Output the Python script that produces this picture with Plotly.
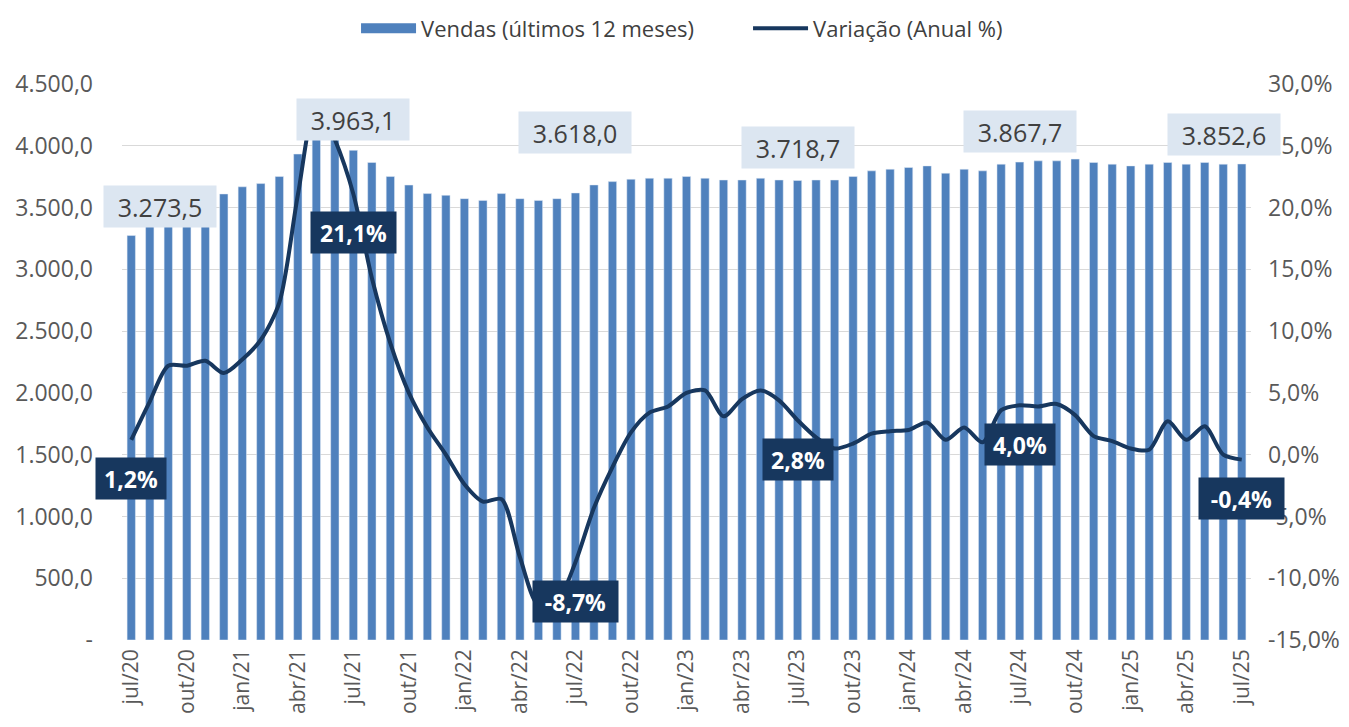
import plotly.graph_objects as go

# months jul/20 .. jul/25
months = [
    "jul/20", "ago/20", "set/20", "out/20", "nov/20", "dez/20",
    "jan/21", "fev/21", "mar/21", "abr/21", "mai/21", "jun/21",
    "jul/21", "ago/21", "set/21", "out/21", "nov/21", "dez/21",
    "jan/22", "fev/22", "mar/22", "abr/22", "mai/22", "jun/22",
    "jul/22", "ago/22", "set/22", "out/22", "nov/22", "dez/22",
    "jan/23", "fev/23", "mar/23", "abr/23", "mai/23", "jun/23",
    "jul/23", "ago/23", "set/23", "out/23", "nov/23", "dez/23",
    "jan/24", "fev/24", "mar/24", "abr/24", "mai/24", "jun/24",
    "jul/24", "ago/24", "set/24", "out/24", "nov/24", "dez/24",
    "jan/25", "fev/25", "mar/25", "abr/25", "mai/25", "jun/25",
    "jul/25",
]

# vendas acumuladas 12 meses
vendas = [
    3273.5, 3420, 3460, 3510, 3580, 3610,
    3668, 3694, 3751, 3933, 4050, 4060,
    3963.1, 3865, 3751, 3682, 3613, 3599,
    3572, 3558, 3613, 3572, 3558, 3572,
    3618.0, 3683, 3710, 3729, 3737, 3737,
    3751, 3737, 3723, 3723, 3737, 3723,
    3718.7, 3723, 3723, 3751, 3797, 3810,
    3824, 3837, 3778, 3810, 3797, 3851,
    3867.7, 3878, 3878, 3892, 3865, 3851,
    3837, 3851, 3865, 3851, 3865, 3851,
    3852.6,
]

# variação anual (%)
variacao = [
    1.2, 4.3, 7.2, 7.2, 7.6, 6.6,
    7.7, 9.3, 12.3, 21.0, 28.5, 25.5,
    21.1, 14.3, 9.0, 5.0, 2.2, 0.0,
    -2.4, -3.8, -3.6, -8.3, -12.2, -11.9,
    -8.7, -4.3, -1.0, 1.8, 3.4, 3.9,
    5.0, 5.2, 3.1, 4.5, 5.2, 4.4,
    2.8, 1.4, 0.5, 0.9, 1.7, 1.9,
    2.0, 2.6, 1.2, 2.2, 1.0, 3.6,
    4.0, 3.9, 4.1, 3.2, 1.5, 1.1,
    0.5, 0.4, 2.7, 1.2, 2.3, 0.0,
    -0.4,
]

# pontos com rótulo (julho de cada ano)
label_idx = [0, 12, 24, 36, 48, 60]

left_ticks = [0, 500, 1000, 1500, 2000, 2500, 3000, 3500, 4000, 4500]
left_ticktext = ["-", "500,0", "1.000,0", "1.500,0", "2.000,0", "2.500,0",
                 "3.000,0", "3.500,0", "4.000,0", "4.500,0"]
right_ticks = [-15, -10, -5, 0, 5, 10, 15, 20, 25, 30]
right_ticktext = ["-15,0%", "-10,0%", "-5,0%", "0,0%", "5,0%", "10,0%",
                  "15,0%", "20,0%", "25,0%", "30,0%"]

BAR = "#4f81bd"
NAVY = "#17375e"
FONT = "Open Sans"


def br(v, dec=1):
    s = f"{v:,.{dec}f}"
    return s.replace(",", "X").replace(".", ",").replace("X", ".")


fig = go.Figure()
fig.add_trace(go.Bar(
    x=months, y=vendas, marker_color=BAR, showlegend=False,
    name="Vendas (últimos 12 meses)",
))
# legend swatch only
fig.add_trace(go.Scatter(
    x=[None], y=[None], mode="lines", name="Vendas (últimos 12 meses)",
    line=dict(color=BAR, width=14),
))
fig.add_trace(go.Scatter(
    x=months, y=variacao, mode="lines", name="Variação (Anual %)",
    line=dict(color=NAVY, width=4, shape="spline", smoothing=0.8),
    yaxis="y2",
))

# bar value labels: (xshift, yshift) per label
bar_shift = [(29, 29), (0, 31), (0, 60), (0, 33), (0, 31), (-18, 29)]
for k, (dx, dy) in zip(label_idx, bar_shift):
    fig.add_annotation(
        x=months[k], y=vendas[k], yref="y", text=br(vendas[k]),
        showarrow=False, xshift=dx, yshift=dy,
        width=106, height=35, borderpad=3,
        bgcolor="#dce6f1",
        font=dict(family=FONT, size=25, color="#404040"),
    )
for k in label_idx:
    txt = br(variacao[k]) + "%"
    fig.add_annotation(
        x=months[k], y=variacao[k], yref="y2", text="<b>" + txt + "</b>",
        showarrow=False, yshift=-39,
        width=15 * len(txt) + 2, height=33, borderpad=4,
        bgcolor=NAVY,
        font=dict(family=FONT, size=23, color="white"),
    )

fig.update_layout(
    width=1349, height=727,
    margin=dict(l=114, r=106, t=76, b=95),
    paper_bgcolor="white", plot_bgcolor="white",
    bargap=0.55,
    font=dict(family=FONT, size=22, color="#595959"),
    legend=dict(orientation="h", xref="container", yref="container",
                x=0.258, xanchor="left", y=0.972, yanchor="middle",
                font=dict(size=22, color="#404040"), itemwidth=55,
                entrywidth=322),
    xaxis=dict(
        range=[-0.5, 60.5],
        tickmode="array", tickvals=months[::3], tickangle=-90,
        showgrid=False, showline=False, ticks="", automargin=False,
        ticklabelstandoff=4,
        tickfont=dict(size=21, color="#595959"),
    ),
    yaxis=dict(
        range=[0, 4500], tickvals=left_ticks, ticktext=left_ticktext,
        showgrid=True, gridcolor="#d9d9d9", gridwidth=1, zeroline=False,
        ticks="", automargin=False, ticklabelstandoff=28,
        tickfont=dict(size=23, color="#595959"),
    ),
    yaxis2=dict(
        range=[-15, 30], tickvals=right_ticks, ticktext=right_ticktext,
        overlaying="y", side="right", showgrid=False, zeroline=False,
        ticks="", automargin=False, ticklabelstandoff=16,
        tickfont=dict(size=23, color="#595959"),
    ),
)

fig.write_html("out.html")
